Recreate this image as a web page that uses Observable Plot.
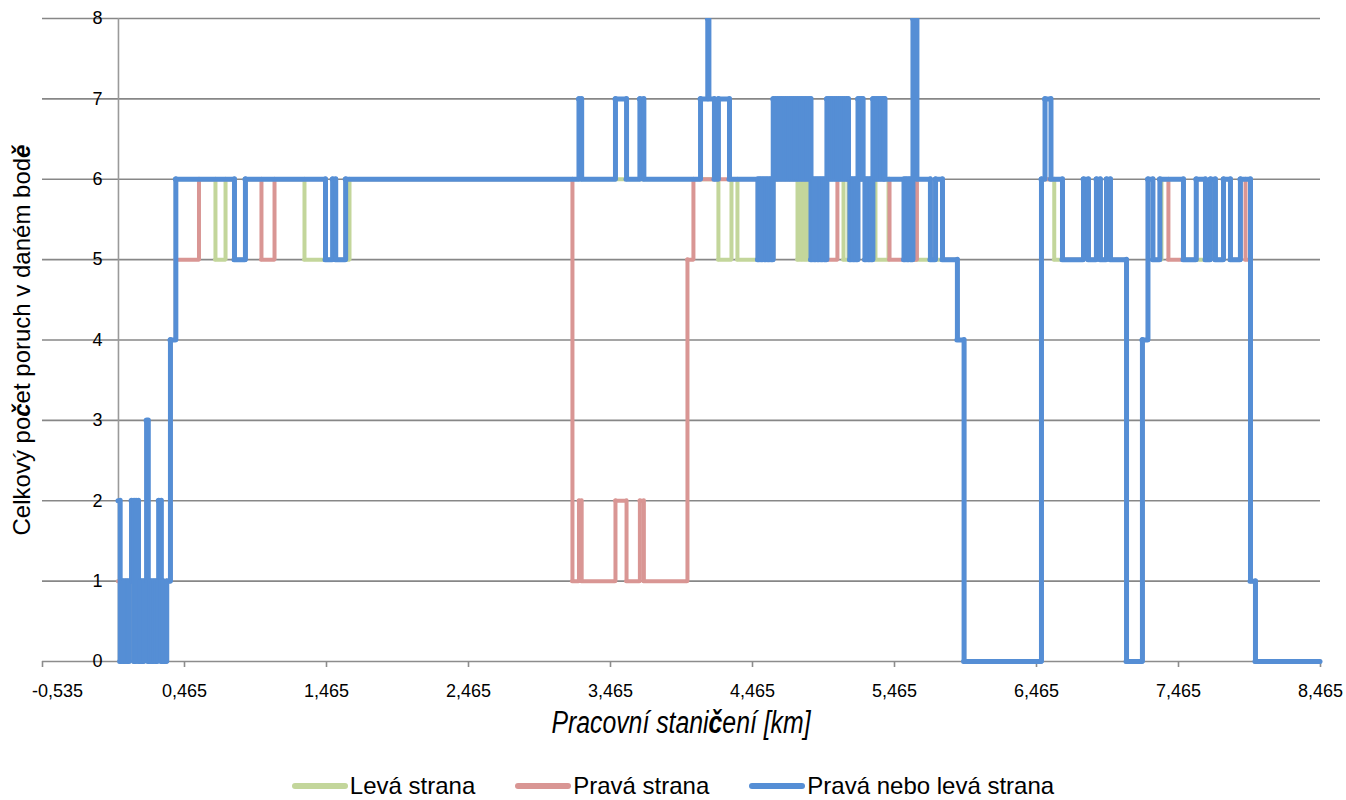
<!DOCTYPE html>
<html>
<head>
<meta charset="utf-8">
<script src="https://cdn.jsdelivr.net/npm/d3@7"></script>
<script src="https://cdn.jsdelivr.net/npm/@observablehq/plot@0.6"></script>
<style>
  body { margin: 0; background: #fff; overflow: hidden; font-family: "Liberation Sans", Arial, sans-serif; }
  #chart svg { display: block; }
  #legend { height: 52px; display: flex; align-items: center; justify-content: center; gap: 40px; font-size: 24px; color: #000; }
  #legend .item { display: flex; align-items: center; }
  #legend .sw { width: 56px; height: 6px; border-radius: 3px; margin-right: 2px; }
</style>
</head>
<body>
<div id="chart"></div>
<div id="legend"></div>
<script>
// Station axis (km) and count axis ticks
const xTicks = [-0.535, 0.465, 1.465, 2.465, 3.465, 4.465, 5.465, 6.465, 7.465, 8.465];
const yTicks = [0, 1, 2, 3, 4, 5, 6, 7, 8];

const seriesNames = ["Levá strana", "Pravá strana", "Pravá nebo levá strana"];
const seriesColors = ["#c3d69b", "#d99694", "#558ed5"];

// Each entry: [station km where the count changes, count of defects from there on]
const leftSide = [
  [0.000,1],[0.012,0],[0.025,1],[0.038,0],[0.051,1],[0.064,0],[0.077,1],[0.110,0],[0.124,1],[0.141,0],
  [0.154,1],[0.167,0],[0.180,1],[0.210,0],[0.223,1],[0.236,0],[0.249,1],[0.262,0],[0.275,1],[0.302,0],
  [0.310,1],[0.317,0],[0.340,1],[0.366,4],[0.404,6],
  [0.683,5],[0.754,6],[0.817,5],[0.894,6],[1.310,5],[1.627,6],
  [4.225,5],[4.317,6],[4.359,5],[4.611,6],[4.782,5],[4.795,6],[4.808,5],[4.821,6],[4.834,5],[4.847,6],
  [4.860,5],[4.989,6],[5.106,5],[5.141,6],[5.151,5],[5.208,6],[5.257,5],[5.313,6],[5.331,5],[5.423,6],
  [5.532,5],[5.908,4],[5.955,0],
  [6.500,6],[6.590,5],[6.796,6],[6.831,5],[6.887,6],[6.915,5],[6.958,6],[6.986,5],[7.099,0],[7.211,4],
  [7.250,6],[7.285,5],[7.345,6],[7.500,5],[7.690,6],[7.725,5],[7.782,6],[7.831,5],[7.901,6],[7.972,1],
  [8.007,0],[8.465,0]
];

const rightSide = [
  [0.000,1],[0.012,0],[0.025,1],[0.038,0],[0.051,1],[0.064,0],[0.077,1],[0.110,0],[0.124,1],[0.141,0],
  [0.154,1],[0.167,0],[0.180,1],[0.210,0],[0.223,1],[0.236,0],[0.249,1],[0.262,0],[0.275,1],[0.302,0],
  [0.310,1],[0.317,0],[0.340,1],[0.366,4],[0.404,5],
  [0.567,6],[0.817,5],[0.894,6],[1.007,5],[1.099,6],[1.458,5],[1.600,6],
  [3.197,1],[3.243,2],[3.262,1],[3.500,2],[3.578,1],[3.672,2],[3.700,1],[4.007,5],[4.049,6],
  [4.503,5],[4.611,6],[4.877,5],[5.063,6],[5.151,5],[5.208,6],[5.257,5],[5.313,6],[5.430,5],[5.623,6],
  [5.718,5],[5.754,6],[5.803,5],[5.908,4],[5.955,0],
  [6.500,6],[6.648,5],[6.796,6],[6.831,5],[6.887,6],[6.915,5],[6.958,6],[6.986,5],[7.099,0],[7.211,4],
  [7.250,6],[7.285,5],[7.334,6],[7.394,5],[7.590,6],[7.655,5],[7.690,6],[7.725,5],[7.782,6],[7.831,5],
  [7.901,6],[7.937,5],[7.972,1],[8.007,0],[8.465,0]
];

const eitherSide = [
  [0.000,2],[0.012,0],[0.025,1],[0.038,0],[0.051,1],[0.064,0],[0.077,1],[0.092,2],[0.110,0],[0.124,2],
  [0.141,0],[0.154,1],[0.167,0],[0.180,1],[0.198,3],[0.210,0],[0.223,1],[0.236,0],[0.249,1],[0.262,0],
  [0.275,1],[0.283,2],[0.302,0],[0.310,1],[0.317,0],[0.340,1],
  [0.366,4],[0.404,6],[0.817,5],[0.894,6],[1.458,5],[1.508,6],[1.530,5],[1.600,6],
  [3.243,7],[3.262,6],[3.500,7],[3.578,6],[3.672,7],[3.700,6],
  [4.099,7],[4.150,8],[4.158,7],[4.197,6],[4.225,7],[4.303,6],
  [4.503,5],[4.515,6],[4.527,5],[4.539,6],[4.551,5],[4.563,6],[4.575,5],[4.587,6],[4.599,5],
  [4.611,7],[4.625,6],[4.639,7],[4.653,6],[4.667,7],[4.681,6],[4.695,7],[4.709,6],[4.723,7],[4.737,6],
  [4.751,7],[4.765,6],[4.779,7],[4.793,6],[4.807,7],[4.821,6],[4.835,7],[4.849,6],[4.863,7],
  [4.877,5],[4.889,6],[4.901,5],[4.913,6],[4.925,5],[4.937,6],[4.949,5],[4.961,6],[4.973,5],
  [4.989,7],[5.003,6],[5.017,7],[5.031,6],[5.045,7],[5.059,6],[5.073,7],[5.087,6],[5.101,7],[5.115,6],
  [5.129,7],[5.141,6],[5.151,5],[5.163,6],[5.175,5],[5.187,6],[5.197,5],
  [5.208,7],[5.220,6],[5.232,7],[5.244,6],[5.257,5],[5.269,6],[5.281,5],[5.293,6],[5.303,5],
  [5.313,7],[5.327,6],[5.341,7],[5.355,6],[5.369,7],[5.383,6],[5.391,7],[5.398,6],
  [5.532,5],[5.544,6],[5.556,5],[5.568,6],[5.580,5],[5.595,8],[5.623,6],
  [5.718,5],[5.754,6],[5.803,5],[5.908,4],[5.955,0],
  [6.500,6],[6.525,7],[6.567,6],[6.648,5],[6.796,6],[6.831,5],[6.887,6],[6.915,5],[6.958,6],[6.986,5],
  [7.099,0],[7.211,4],[7.250,6],[7.285,5],[7.334,6],[7.500,5],[7.590,6],[7.655,5],[7.690,6],[7.725,5],
  [7.782,6],[7.831,5],[7.901,6],[7.972,1],[8.007,0],[8.465,0]
];

const fmtKm = d => d.toFixed(3).replace(".", ",");
const font = '"Liberation Sans", Arial, sans-serif';
const axisGray = "#8c8c8c";

// A stepped series drawn as flat runs plus risers, each stroke on its own so
// tightly packed risers merge into a solid band.
function stepMarks(pts, color, width) {
  const flats = pts.slice(0, -1).map(([km, n], i) => ({x1: km, x2: pts[i + 1][0], n}));
  const risers = pts.slice(1)
    .map(([km, n], i) => ({km, n1: pts[i][1], n2: n}))
    .filter(d => d.n1 !== d.n2);
  const style = {stroke: color, strokeWidth: width, strokeLinecap: "round"};
  return [
    Plot.ruleY(flats, {x1: "x1", x2: "x2", y: "n", ...style}),
    Plot.ruleX(risers, {x: "km", y1: "n1", y2: "n2", ...style})
  ];
}

const chart = Plot.plot({
  width: 1346,
  height: 760,
  marginLeft: 42,
  marginRight: 26,
  marginTop: 18,
  marginBottom: 99,
  style: {fontFamily: font, fontSize: "18px", color: "#000", background: "#fff"},
  x: {domain: [-0.535, 8.465], label: null},
  y: {domain: [0, 8], label: null, axis: null},
  marks: [
    // gridlines, category axis line and value axis crossing at 0 km
    Plot.ruleY(yTicks.slice(1), {stroke: "#878787", strokeWidth: 1.6}),
    Plot.ruleY([0], {stroke: axisGray, strokeWidth: 1.6}),
    Plot.ruleX([0], {stroke: "#9a9a9a", strokeWidth: 1.6}),
    // x ticks and labels; the first label sits inside the chart edge
    Plot.axisX({ticks: xTicks.slice(1), tickFormat: fmtKm, tickSize: 6, tickPadding: 17,
                stroke: axisGray, strokeWidth: 1.6, fill: "#000", fontSize: 18, label: null}),
    Plot.ruleX(xTicks.slice(0, 1), {y1: 0, y2: 0, insetBottom: -6, stroke: axisGray, strokeWidth: 1.6}),
    Plot.axisX({ticks: xTicks.slice(0, 1), tickFormat: fmtKm, tickSize: 0, tickPadding: 23, dx: 15,
                fill: "#000", fontSize: 18, label: null}),
    // y labels beside the value axis
    Plot.text(yTicks, {x: 0, y: d => d, text: d => String(d), dx: -16,
                       textAnchor: "end", fontSize: 18, fill: "#000"}),
    ...stepMarks(leftSide, seriesColors[0], 4),
    ...stepMarks(rightSide, seriesColors[1], 4),
    ...stepMarks(eitherSide, seriesColors[2], 5)
  ]
});

document.getElementById("chart").append(chart);

const svg = d3.select(chart);

// The six series groups are the last marks; they stop at the top edge of the plotting area
const seriesGroups = svg.selectAll(":scope > g").nodes().slice(-6);
const yTop = chart.scale("y").apply(8);
svg.append("defs").append("clipPath").attr("id", "plot-top")
  .append("rect").attr("x", 0).attr("y", yTop).attr("width", 1346).attr("height", 760);
seriesGroups.forEach(g => g.setAttribute("clip-path", "url(#plot-top)"));

// Axis titles
function addTitle(parts, transform, size, italic) {
  const t = svg.append("text")
    .attr("transform", transform)
    .attr("text-anchor", "middle")
    .attr("font-family", font)
    .attr("font-size", size)
    .attr("font-style", italic ? "italic" : "normal")
    .attr("fill", "#000");
  parts.forEach(([s, strong]) => {
    const sp = t.append("tspan").text(s);
    if (strong) sp.attr("font-weight", "bold").attr("font-style", "italic");
  });
}

addTitle([["Celkový po"], ["č", true], ["et poruch v daném bod"], ["ě", true]],
         "translate(30,340) rotate(-90)", 24, false);
addTitle([["Pracovní stani"], ["č", true], ["ení [km]"]],
         "translate(681,733) scale(0.8,1)", 31, true);

// Legend
const legend = d3.select("#legend");
seriesNames.forEach((name, i) => {
  const item = legend.append("div").attr("class", "item");
  item.append("span").attr("class", "sw").style("background", seriesColors[i]);
  item.append("span").text(name);
});
</script>
</body>
</html>
